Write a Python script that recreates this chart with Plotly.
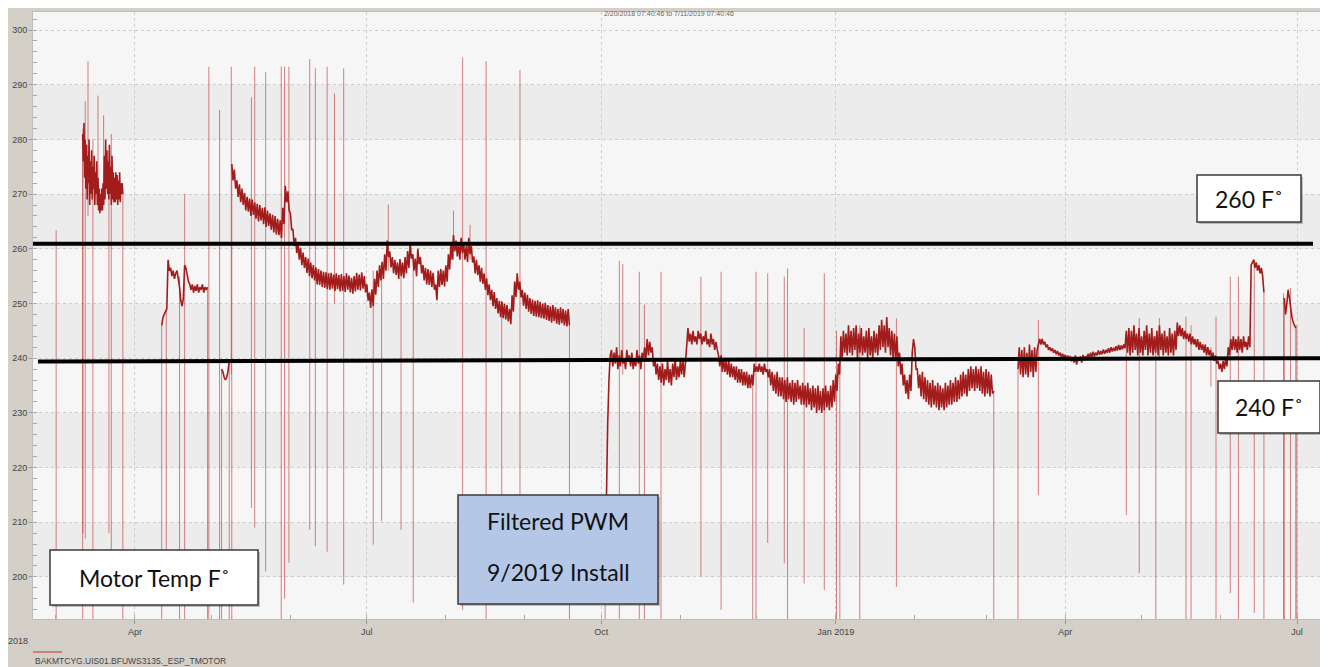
import pandas as pd
import plotly.graph_objects as go

# ---------------- data ----------------
OFF = 185.0  # motor off / below the visible scale

x_start, x_end = "2018-02-20 00:00", "2019-07-10 19:00"
y_min, y_max = 192.3, 303.3

quarter_ticks = ["2018-04-01", "2018-07-01", "2018-10-01", "2019-01-01", "2019-04-01", "2019-07-01"]
quarter_labels = ["Apr", "Jul", "Oct", "Jan 2019", "Apr", "Jul"]

seg_a_start, seg_a_step = "2018-03-11 12:00", "6h"
seg_a_vals = [281, 276,
              283, 273, 280, 271, 279, 269, 277, 272, 280, 268, 276, 270,
              278, 269, 275, 271, 277, 268, 274, 270, 276, 268, 273, 267,
              271, 266.5, 270, 267, 271, 267, 272, 268, 277, 269, 280, 271,
              278, 270, 276, 269, 279, 270, 275, 268, 277, 269, 274, 268.5,
              273, 268.5, 274, 269, 273.5, 268, 272.5, 269, 274, 268.5, 272, 270,
              272, 270]

seg_b_start, seg_b_step = "2018-04-11 12:00", "12h"
seg_b_vals = [246, 247.5, 248, 248.5, 249, 258, 256, 256.5, 255, 256, 254.5, 255.5, 256,
              254.5, 253, 250.5, 249.5, 251, 257, 256.5, 255, 254, 253.5, 252.5, 253.5,
              252, 253.2, 252.3, 253.5, 252, 253, 252.5, 253.5, 252, 253, 252.5, 253]

seg_b2_start, seg_b2_step = "2018-05-05 00:00", "12h"
seg_b2_vals = [238, 237.5, 236.5, 236, 236.5, 237.5, 239.5]

seg_c_start, seg_c_step = "2018-05-09 00:00", "12h"
seg_c_vals = [275.5, 272.5, 274.5, 271, 272.5, 269.5, 271.8, 268.5, 271, 268, 270.2, 267,
              269.5, 266.8, 269.2, 266, 269, 266.2, 268.5, 265.5, 268.2, 265, 268, 265.2,
              267.5, 264.5, 267.6, 264, 267, 264.2, 266.5, 263.5, 266.2, 263, 266, 262.6,
              265.5, 262.5, 265.2, 262, 267.5, 264.5, 271.5, 268.5, 270.5, 267,
              266.5, 263.5, 263.5, 260.5, 262, 259.2, 261, 258, 260.2, 257, 259.3, 256.5,
              258.5, 255.6, 258.2, 255, 257.5, 254.6, 257, 254.2, 256.6, 253.5, 256.3, 253.4,
              256, 253, 255.8, 252.9, 255.7, 252.6, 255.5, 252.5, 255.6, 252.7, 255.3, 252.3,
              255.5, 252.6, 255.2, 252.2, 255.4, 252.3, 255, 252.1, 255.5, 252.5, 255.1, 252,
              254.7, 251.8, 255, 252.2, 255.6, 252.5, 255.3, 252.4, 255.7, 252.7, 255, 252,
              253.5, 250.5, 252, 249.2, 252.6, 249.5, 254.5, 251.6, 256, 253, 257, 254.2,
              257.6, 254.5, 259, 256, 261.5, 258.5, 259.5, 256.6, 258.5, 255.5, 258, 255.2,
              257.5, 254.5, 258.1, 255, 257.5, 254.6, 258.5, 255.5, 259.6, 256.5, 261, 258.2,
              259, 256, 258.2, 255, 260, 257.2, 258.5, 255.5, 257, 254.2, 256.5, 253.5,
              256.3, 253.4, 256, 253, 255.6, 252.5, 253.5, 250.6, 256, 253, 256.3, 253.4,
              256, 253.1, 257, 254, 259, 256.2, 261, 258, 262.5, 259.5, 261.5, 258.6,
              261, 258, 262, 259.2, 261, 258, 260.5, 257.6, 262, 259, 260.5, 257.5,
              258.6, 255.5, 258, 255.2, 257, 254, 256.5, 253.6, 255.5, 252.5, 254.6, 251.5,
              253.5, 250.6, 252.5, 249.5, 252.1, 249, 251, 248.2, 250.5, 247.5, 250.4, 247.3,
              250, 247.1, 249.7, 246.7, 249, 246.2, 251.5, 248.5, 254, 251.2, 255.5, 252.5,
              254, 251.1, 252.5, 249.6, 252, 249, 251.6, 248.5, 251, 248.1, 250.7, 247.7,
              250.5, 247.6, 250.6, 247.5, 250.3, 247.3, 250, 247.2, 250.1, 247, 249.7, 246.8,
              249.5, 246.5, 249.7, 246.8, 249.3, 246.3, 249, 246.1, 249.3, 246.4, 249, 246,
              248.7, 245.8, 249, 246]

seg_d_start, seg_d_step = "2018-10-02 12:00", "12h"
seg_d_vals = [200, 216, 228, 236, 240.5,
              241.5, 238.5, 241, 239, 242, 238, 240.5, 238.5, 241.5, 239, 240, 238,
              241.5, 239.5, 240.5, 238.5, 241, 238, 240, 238.5, 241.5, 239, 240.5, 238,
              241, 239.5, 242, 240, 243.5, 240.5, 243, 241, 242, 238.5, 240, 237,
              239, 236, 238.5, 235.5, 239, 235, 238, 236, 239.5, 235.5, 238, 235,
              239, 236.5, 240, 236, 238.5, 236.5, 239.5, 237, 240, 236.5, 239, 243.5,
              245.5, 243, 244.5, 242.5, 245, 243, 244, 242.5, 245, 243.5, 244.5, 242.5,
              244, 243, 245, 242.5, 243.5, 242, 244.5, 242.5, 243.5, 241.5, 243, 241.5,
              240.5, 238.5, 240.5, 237.5, 240, 237.5, 239.5, 237, 239.5, 236.5, 239, 236.5,
              238.5, 236, 238.5, 235.5, 238, 235.5, 238, 235, 237.5, 235, 237.5, 234.5,
              237, 234.5, 237, 235, 239, 237.5, 238.5, 237.5, 239, 237.5, 238.5, 237,
              239, 237.5, 238, 236.5, 238, 235, 237.5, 234, 237, 233.5, 237.5, 233,
              236.5, 233, 236.5, 232.5, 236, 232, 236.5, 232.5, 235.5, 232, 236, 231.5,
              235.5, 232, 236, 232.5, 235, 231.5, 235.5, 231.5, 235, 231, 235.5, 231.5,
              234.5, 230.5, 235, 231, 234.5, 230, 235, 230.5, 234, 230, 234.5, 230.5,
              235, 231, 234, 230.5, 235, 231, 236, 232, 237, 234, 239, 237,
              244, 240, 245, 241, 244.5, 240.5, 246, 241, 245, 240.5, 245.5, 241.5,
              246, 240, 244.5, 241, 245.5, 240.5, 244, 241, 245, 240, 245.5, 240.5,
              244, 240, 245, 241, 244.5, 240.5, 246, 241.5, 247, 242, 246, 241,
              247.5, 242, 245.5, 240.5, 245, 240, 244.5, 239.5, 244, 238.5, 241, 237,
              239, 235, 237, 233.5, 236, 232.5, 237, 234, 241, 243.5, 242, 238,
              238, 234.5, 237, 233, 237.5, 232.5, 236.5, 232, 236, 231.5, 235.5, 231,
              236, 231.5, 235, 231, 235.5, 230.5, 235, 231, 234.5, 230.5, 235.5, 231,
              235, 231.5, 236, 231.5, 235.5, 232, 236.5, 232, 236, 232.5, 237, 233,
              237.5, 233.5, 237, 233, 238, 234, 238.5, 234.5, 238, 234, 238.5, 234.5,
              238, 234, 238.5, 233.5, 237.5, 233, 238, 233.5, 237.5, 233, 237, 233.5,
              234]

seg_e_start, seg_e_step = "2019-03-13 12:00", "12h"
seg_e_vals = [238,
              242, 237, 241.5, 236.5, 242, 237, 241, 236.5, 242.5, 237.5, 241.5, 236.5,
              242, 237.5, 241.5, 242.5, 243.5, 242.5, 243.5, 242.5, 243, 242, 242.5, 241.5,
              242, 241.3, 241.8, 241, 241.5, 240.7, 241.3, 240.5, 241, 240.2, 240.8, 240,
              240.6, 239.8, 240.5, 239.6, 240.4, 239.4, 240.2, 239.2, 240.5, 238.8, 240, 239.5,
              240.3, 239.2, 240.6, 239.6, 240.4, 239.8, 240.8, 240, 241, 240.2, 241.2, 240.3,
              241, 240.5, 241.4, 240.6, 241.3, 240.7, 241.6, 240.8, 241.5, 241, 241.8, 241,
              242, 241.2, 241.9, 241.3, 242.2, 241.4, 242.4, 241.5, 242.3, 241.6, 242.5, 241.8,
              245, 241, 245.5, 240.5, 245, 241, 246, 241.5, 244.5, 240.5, 245.5, 241,
              244, 240.5, 245, 241.5, 246, 240.5, 244.5, 241, 245.5, 240.5, 244, 241,
              245, 240.5, 246, 241.5, 244.5, 240.5, 245, 241, 244, 240.5, 245.5, 241,
              244.5, 240.5, 245, 241.5, 246.5, 244, 246, 244, 245.5, 243.5, 245, 243.5,
              244.5, 243, 244.5, 242.5, 244, 242.5, 243.5, 242, 243.5, 241.5, 243, 241.5,
              242.5, 241, 242.5, 240.5, 242, 240.5, 241.5, 240, 241, 239.5, 240.5, 239,
              239.5, 238, 239, 237.5, 239.5, 238, 240, 238.5, 242, 240.5, 243.5, 241.5,
              244, 241.5, 243.5, 241, 244, 241.5, 243.5, 241, 244, 242, 243, 241.5,
              244, 242, 257, 257.5, 258, 256.5, 257.5, 256, 257, 255.5, 256.5, 255,
              252]

seg_e2_start, seg_e2_step = "2019-06-26 00:00", "12h"
seg_e2_vals = [251, 248, 250, 252.5, 251, 249, 247.5, 246.5, 246, 245.5]

# short single-sample excursions (date, top, bottom)
spike_dates = ["2018-03-01 02:00", "2018-03-11 14:00", "2018-03-12 12:00", "2018-03-13 14:00",
               "2018-03-15 12:00", "2018-03-17 12:00", "2018-03-19 17:00", "2018-03-21 19:00",
               "2018-03-22 17:00", "2018-04-13 07:00", "2018-04-18 12:00", "2018-04-20 12:00",
               "2018-04-30 00:00", "2018-05-04 05:00", "2018-05-08 19:00", "2018-05-16 17:00",
               "2018-05-18 00:00", "2018-05-22 07:00", "2018-05-28 10:00", "2018-05-29 17:00",
               "2018-05-31 10:00", "2018-06-08 14:00", "2018-06-10 19:00", "2018-06-15 10:00",
               "2018-06-18 07:00", "2018-06-21 22:00", "2018-07-03 12:00", "2018-07-06 19:00",
               "2018-07-09 10:00", "2018-07-14 10:00", "2018-07-19 05:00", "2018-08-04 00:00",
               "2018-08-07 14:00", "2018-08-10 12:00", "2018-08-16 19:00", "2018-08-22 22:00",
               "2018-08-30 02:00", "2018-10-08 02:00", "2018-10-09 10:00", "2018-10-15 22:00",
               "2018-10-17 22:00", "2018-10-24 10:00", "2018-11-09 02:00", "2018-11-17 00:00",
               "2018-11-29 10:00", "2018-11-30 17:00", "2018-12-05 07:00", "2018-12-11 19:00",
               "2018-12-13 02:00", "2018-12-19 14:00", "2018-12-27 12:00", "2019-01-01 07:00",
               "2019-01-02 14:00", "2019-01-10 10:00", "2019-01-24 19:00", "2019-03-21 12:00",
               "2019-04-25 00:00", "2019-04-30 02:00", "2019-05-06 14:00", "2019-05-08 00:00",
               "2019-05-18 10:00", "2019-05-20 10:00", "2019-05-28 05:00", "2019-05-30 05:00",
               "2019-06-04 19:00", "2019-06-08 00:00", "2019-06-14 05:00", "2019-06-25 17:00",
               "2019-06-28 10:00", "2019-06-30 22:00"]
spike_hi = [263.4, 282, 287, 294.3, 280, 288, 284.4, 278, 281, 249, 255, 270,
            293.3, 285.4, 293.3, 287.7, 293.3, 292.3, 293.3, 293.3, 293.3, 294.7, 293, 293.3,
            288.4, 293, 256, 256, 268.1, 257, 259, 267, 295, 264.4, 294.3, 250,
            292.7, 257.8, 257.2, 255.8, 249.8, 255.8, 254.9, 255.8, 236, 255.8, 255.5, 254.9,
            256.4, 245.5, 255.5, 245, 238, 246, 247.3, 247,
            244, 247.3, 244, 247.3, 247.6, 246, 242, 247.6, 254.9, 254.9, 258, 251.9,
            252.8, 246]
spike_lo = [OFF, 208, 207, 266, OFF, 268, 270, 208, 205, 196, OFF, OFF,
            OFF, OFF, 237, 212.6, 209, 201, OFF, 196, 202.6, 208.6, 205.6, 204.6,
            250, 198.6, 205.9, 210.2, 256, 208.6, 195.3, 258, 194, 258, OFF, 214.6,
            205, OFF, 237, OFF, OFF, OFF, 200.1, 194, OFF, OFF, 206.2, 202.5,
            OFF, 198.8, 197.6, OFF, OFF, OFF, 198.2, 215,
            211.3, 200.7, OFF, 240, OFF, OFF, 234.8, OFF, 197, OFF, 193.4, OFF,
            OFF, OFF]

series_name = "BAKMTCYG.UIS01.BFUWS3135._ESP_TMOTOR"
title_text = "2/20/2018 07:40:46 to 7/11/2019 07:40:46"
limit_hi, limit_lo_left, limit_lo_right = 260.9, 239.4, 240.0

# ---------------- build traces ----------------
segments = [(seg_a_start, seg_a_step, seg_a_vals), (seg_b_start, seg_b_step, seg_b_vals),
            (seg_b2_start, seg_b2_step, seg_b2_vals), (seg_c_start, seg_c_step, seg_c_vals),
            (seg_d_start, seg_d_step, seg_d_vals), (seg_e_start, seg_e_step, seg_e_vals),
            (seg_e2_start, seg_e2_step, seg_e2_vals)]

xs, ys = [], []      # running segments (thick)
sx, sy = [], []      # start/stop transitions and single-sample spikes (thin)
for start, step, vals in segments:
    t = list(pd.date_range(start, periods=len(vals), freq=step))
    xs += t + [None]
    ys += list(vals) + [None]
    sx += [t[0], t[0], None, t[-1], t[-1], None]
    sy += [OFF, vals[0], None, vals[-1], OFF, None]

for d, hi, lo in zip(spike_dates, spike_hi, spike_lo):
    sx += [d, d, None]
    sy += [lo, hi, None]

fig = go.Figure()
fig.add_trace(go.Scatter(x=sx, y=sy, mode="lines", name=series_name,
                         line=dict(color="rgba(188,48,48,0.6)", width=1),
                         hoverinfo="skip"))
fig.add_trace(go.Scatter(x=xs, y=ys, mode="lines", name=series_name,
                         line=dict(color="rgb(163,28,28)", width=1.6)))

# ---------------- layout helpers ----------------
# The page body has an 8px margin, so the figure is placed 8px in from the
# window's top-left corner; plot-area edges are given in window pixels.
OX, OY = 8, 8
WIN_W, WIN_H = 1328, 667
PL, PR, PT, PB = 33, 1322, 12, 619


def fx(p):
    return (p - PL) / (PR - PL)


def fy(p):
    return (PB - p) / (PB - PT)


shapes = []
# alternating horizontal bands
for lo in [280, 260, 240, 220, 200]:
    shapes.append(dict(type="rect", xref="paper", yref="y", x0=0, x1=1, y0=lo, y1=lo + 10,
                       fillcolor="#ececec", line=dict(width=0), layer="below"))

# light frame strip at the right of the window
shapes.append(dict(type="rect", xref="paper", yref="paper", x0=fx(1323), x1=fx(1329), y0=fy(668), y1=fy(OY),
                   fillcolor="#e7e5e0", line=dict(width=0), layer="below"))

# hand-drawn limit lines
shapes.append(dict(type="line", xref="paper", yref="y", x0=fx(33), x1=fx(1313), y0=limit_hi, y1=limit_hi,
                   line=dict(color="black", width=4)))
shapes.append(dict(type="line", xref="paper", yref="y", x0=fx(38), x1=fx(1322), y0=limit_lo_left,
                   y1=limit_lo_right, line=dict(color="black", width=4)))

# legend swatch
shapes.append(dict(type="line", xref="paper", yref="paper", x0=fx(33), x1=fx(62), y0=fy(652), y1=fy(652),
                   line=dict(color="#d06060", width=1.5)))

annotations = []
boxes = [  # (left, top, right, bottom, fill, texts [(text, cy)])
    (50, 550, 258, 605, "white", [("Motor Temp F˚", 578)]),
    (458, 495, 658, 604, "#b4c7e7", [("Filtered PWM", 521), ("9/2019 Install", 572)]),
    (1197, 175, 1301, 222, "white", [("260 F˚", 199)]),
    (1218, 381, 1320, 433, "white", [("240 F˚", 407)]),
]
for l, t, r, b, fill, texts in boxes:
    shapes.append(dict(type="rect", xref="paper", yref="paper", x0=fx(l + 2), x1=fx(r + 2),
                       y0=fy(b + 2), y1=fy(t + 2), fillcolor="rgba(0,0,0,0.22)", line=dict(width=0)))
    shapes.append(dict(type="rect", xref="paper", yref="paper", x0=fx(l), x1=fx(r),
                       y0=fy(b), y1=fy(t), fillcolor=fill, line=dict(color="#3a3a3a", width=1.5)))
    for txt, cy in texts:
        annotations.append(dict(text=txt, xref="paper", yref="paper", x=fx((l + r) / 2), y=fy(cy),
                                xanchor="center", yanchor="middle", showarrow=False,
                                font=dict(family="Lato", size=23, color="#111")))

annotations.append(dict(text=title_text, xref="paper", yref="paper", x=fx(669), y=fy(OY),
                        xanchor="center", yanchor="top", showarrow=False,
                        font=dict(family="Liberation Sans", size=7, color="#666")))
annotations.append(dict(text="2018", xref="paper", yref="paper", x=fx(18), y=fy(641),
                        xanchor="center", yanchor="middle", showarrow=False,
                        font=dict(family="Liberation Sans", size=9, color="#444")))
annotations.append(dict(text=series_name, xref="paper", yref="paper", x=fx(33), y=fy(661),
                        xanchor="left", yanchor="middle", showarrow=False,
                        font=dict(family="Liberation Sans", size=8.5, color="#444")))

month_ticks = [d.strftime("%Y-%m-%d") for d in pd.date_range("2018-03-01", "2019-07-01", freq="MS")]

fig.update_layout(
    width=WIN_W - OX, height=WIN_H - OY,
    margin=dict(l=PL - OX, r=WIN_W - PR, t=PT - OY, b=WIN_H - PB, autoexpand=False),
    paper_bgcolor="#d4d0c8", plot_bgcolor="#f6f6f6",
    showlegend=False,
    font=dict(family="Liberation Sans", size=9, color="#444"),
    shapes=shapes, annotations=annotations,
)
fig.update_xaxes(
    type="date", range=[x_start, x_end], automargin=False,
    tickmode="array", tickvals=quarter_ticks, ticktext=quarter_labels,
    ticks="outside", ticklen=4, tickcolor="#999",
    showgrid=True, gridcolor="#cdcdcd", griddash="dot", gridwidth=1,
    showline=True, linecolor="#bdbdbd", mirror=True, zeroline=False,
    minor=dict(tickvals=month_ticks, ticks="inside", ticklen=4, tickcolor="#aaa", showgrid=False),
)
fig.update_yaxes(
    range=[y_min, y_max], tick0=0, dtick=10, automargin=False,
    ticks="outside", ticklen=3, tickcolor="#999",
    showgrid=True, gridcolor="#cdcdcd", griddash="dot", gridwidth=1,
    showline=True, linecolor="#bdbdbd", mirror=True, zeroline=False,
    minor=dict(dtick=2, ticks="inside", ticklen=4, tickcolor="#aaa", showgrid=False),
)

fig.write_html("out.html")
